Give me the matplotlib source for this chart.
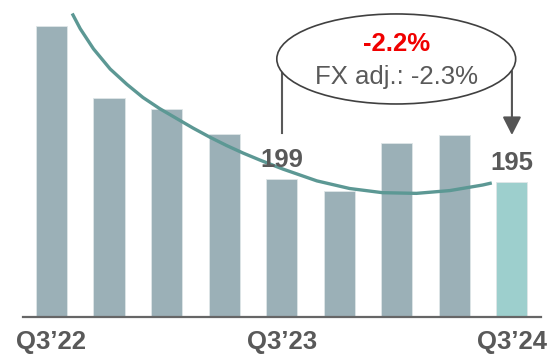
import numpy as np
import matplotlib.pyplot as plt
from matplotlib.patches import Ellipse

plt.rcParams['font.family'] = ['Liberation Sans', 'DejaVu Sans']

# quarterly values (Q3'22 ... Q3'24)
quarters = ["Q3’22", "", "", "", "Q3’23", "", "", "", "Q3’24"]
values = [419, 316, 299, 263, 199, 182, 251, 262, 195]
bar_colors = ['#9bb0b7'] * 8 + ['#9dcfcd']

# trend curve drawn over the bars (x in bar index units, y in value units)
trend_x = [0.36, 0.50, 0.73, 1.02, 1.31, 1.59, 1.88, 2.17, 2.46, 2.75, 3.04,
           3.33, 3.62, 4.02, 4.61, 5.18, 5.75, 6.34, 6.92, 7.49, 7.65]
trend_y = [437, 415, 386, 357, 335, 316, 300, 286, 272, 259, 247,
           236, 226, 213, 196, 185, 179, 178, 182, 190, 193]

growth = "-2.2%"
growth_fx = "FX adj.: -2.3%"

grey = '#595959'
x = np.arange(len(values))

fig = plt.figure(figsize=(5.49, 3.57), dpi=100)
ax = fig.add_axes([22.7 / 549, 40 / 357, 518 / 549, 317 / 357])

ax.bar(x, values, width=0.54, color=bar_colors, edgecolor='#dfe6e8', linewidth=0.6, zorder=2)
ax.plot(trend_x, trend_y, color='#5c9894', lw=2.4, solid_capstyle='butt',
        solid_joinstyle='round', zorder=3)

# value labels on the compared bars
for i in (4, 8):
    ax.annotate(str(values[i]), xy=(i, values[i]), xytext=(0, 5), textcoords='offset points',
                ha='center', va='bottom', fontsize=18.5, fontweight='bold', color=grey, zorder=4)

# growth bubble with bracket from Q3'23 to Q3'24
ax.add_patch(Ellipse((5.99, 371.5), 4.15, 129.6, facecolor='white', edgecolor='#404040',
                     lw=1.2, zorder=4))
ax.text(5.99, 393, growth, ha='center', va='center', fontsize=18.5, fontweight='bold',
        color='#f00000', zorder=5)
ax.text(5.99, 346, growth_fx, ha='center', va='center', fontsize=18.5, color=grey, zorder=5)
ax.plot([4, 4], [353, 265], color=grey, lw=1.5, zorder=3)
ax.annotate('', xy=(8, 262), xytext=(8, 354),
            arrowprops=dict(arrowstyle='-|>,head_length=0.55,head_width=0.28', mutation_scale=20,
                            color='#555555', lw=1.5, shrinkA=0, shrinkB=0), zorder=3)

ax.set_xlim(-0.5, 8.5)
ax.set_ylim(0, 456.4)
ax.set_xticks(x)
ax.set_xticklabels(quarters, fontsize=18.5, fontweight='bold', color=grey)
ax.tick_params(axis='x', length=0, pad=9)
ax.set_yticks([])
for side in ('left', 'right', 'top'):
    ax.spines[side].set_visible(False)
ax.spines['bottom'].set_color('#666666')
ax.spines['bottom'].set_linewidth(1.6)
ax.spines['bottom'].set_zorder(5)

fig.savefig('out.png', dpi=100)
